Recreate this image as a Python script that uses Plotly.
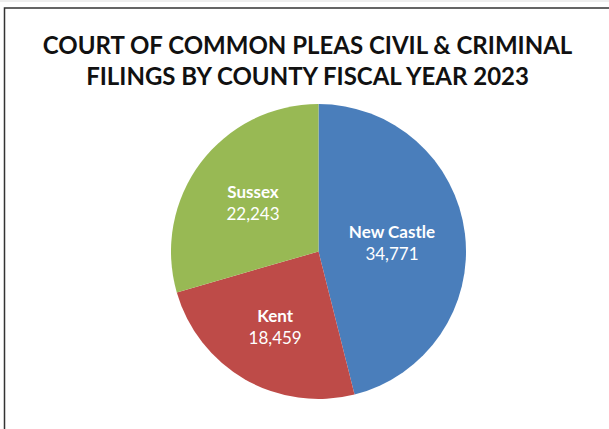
import plotly.graph_objects as go

counties = ["New Castle", "Kent", "Sussex"]
filings = [34771, 18459, 22243]
colors = ["#4A7EBB", "#BE4B48", "#98B954"]
title_lines = ["COURT OF COMMON PLEAS CIVIL & CRIMINAL", "FILINGS BY COUNTY FISCAL YEAR 2023"]

W, H = 609, 429
cx, cy, r = 318.5, 251.5, 147.5

fig = go.Figure(go.Pie(
    labels=counties,
    values=filings,
    sort=False,
    direction="clockwise",
    rotation=0,
    marker=dict(colors=colors, line=dict(width=0)),
    texttemplate="<b>%{label}</b><br>%{value:,}",
    textposition="inside",
    insidetextorientation="horizontal",
    textfont=dict(family="Lato", size=17, color="white"),
    domain=dict(x=[(cx - r) / W, (cx + r) / W], y=[(H - cy - r) / H, (H - cy + r) / H]),
    showlegend=False,
    hoverinfo="label+value",
))

fig.update_layout(
    width=W, height=H,
    margin=dict(l=0, r=0, t=0, b=0),
    paper_bgcolor="white",
    title=dict(
        text="<br>".join(title_lines),
        x=0.505, xanchor="center", y=1 - 54 / H, yanchor="middle",
        font=dict(family="Lato", size=24, color="#111111", weight="bold"),
    ),
    shapes=[
        dict(type="rect", xref="paper", yref="paper",
             x0=4.5 / W, x1=1.05, y0=-0.05, y1=1 - 8 / H,
             line=dict(color="#333333", width=1.5)),
        dict(type="line", xref="paper", yref="paper",
             x0=0, x1=1, y0=1 - 1 / H, y1=1 - 1 / H,
             line=dict(color="#dddddd", width=1)),
    ],
)

fig.write_html(
    "out.html",
    config={"displayModeBar": False},
    post_script="document.body.style.margin='0';document.body.style.overflow='hidden';",
)
